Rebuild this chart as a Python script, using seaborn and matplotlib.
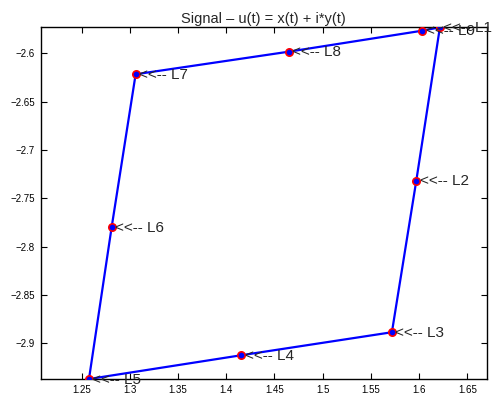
import matplotlib
matplotlib.use("Agg")
import matplotlib.pyplot as plt
import seaborn as sns
import pandas as pd

labels = ["L1", "L2", "L3", "L4", "L5", "L6", "L7", "L8", "L9"]
x_vals = [1.6216, 1.5971, 1.5718, 1.4156, 1.2576, 1.2811, 1.3060, 1.4650, 1.6033]
y_vals = [-2.5731, -2.7318, -2.8886, -2.9124, -2.9370, -2.7800, -2.6217, -2.5983, -2.5766]
x_ticks = [1.25, 1.3, 1.35, 1.4, 1.45, 1.5, 1.55, 1.6, 1.65]
y_ticks = [-2.9, -2.85, -2.8, -2.75, -2.7, -2.65, -2.6]

sns.set_theme(style="white")
plt.rcParams['font.family'] = ['Liberation Sans', 'DejaVu Sans']

df = pd.DataFrame({"x": x_vals, "y": y_vals, "label": labels})
path = pd.concat([df, df.iloc[[0]]], ignore_index=True)

fig = plt.figure(figsize=(4.96, 3.98), dpi=100)
ax = fig.add_axes([0.082, 0.0477, 0.899, 0.8837])

sns.lineplot(data=path, x="x", y="y", sort=False, estimator=None, color="blue",
             linewidth=1.6, ax=ax)
sns.scatterplot(data=df, x="x", y="y", marker="o", s=28, facecolor="blue",
                edgecolor="red", linewidth=1.2, ax=ax, zorder=5)

for _, r in df.iterrows():
    ax.annotate("<<-- " + r.label, (r.x, r.y), xytext=(2.5, -0.5),
                textcoords="offset points", fontsize=11, ha="left", va="center",
                annotation_clip=False, zorder=6)

ax.set_xlim(1.2075, 1.670)
ax.set_ylim(-2.937, -2.5731)
ax.set_xticks(x_ticks)
ax.set_xticklabels([f"{v:g}" for v in x_ticks])
ax.set_yticks(y_ticks)
ax.set_yticklabels([f"{v:g}".replace("-", "\u2212") for v in y_ticks])
ax.tick_params(direction="in", length=4, width=0.8, labelsize=7, colors="black",
               top=True, right=True, bottom=True, left=True, pad=4)
for s in ax.spines.values():
    s.set_color("black")
    s.set_linewidth(1.0)
ax.set_xlabel("")
ax.set_ylabel("")
ax.set_title("Signal \u2013 u(t) = x(t) + i*y(t)", fontsize=10.5, pad=3)

fig.savefig("out.png", dpi=100)
